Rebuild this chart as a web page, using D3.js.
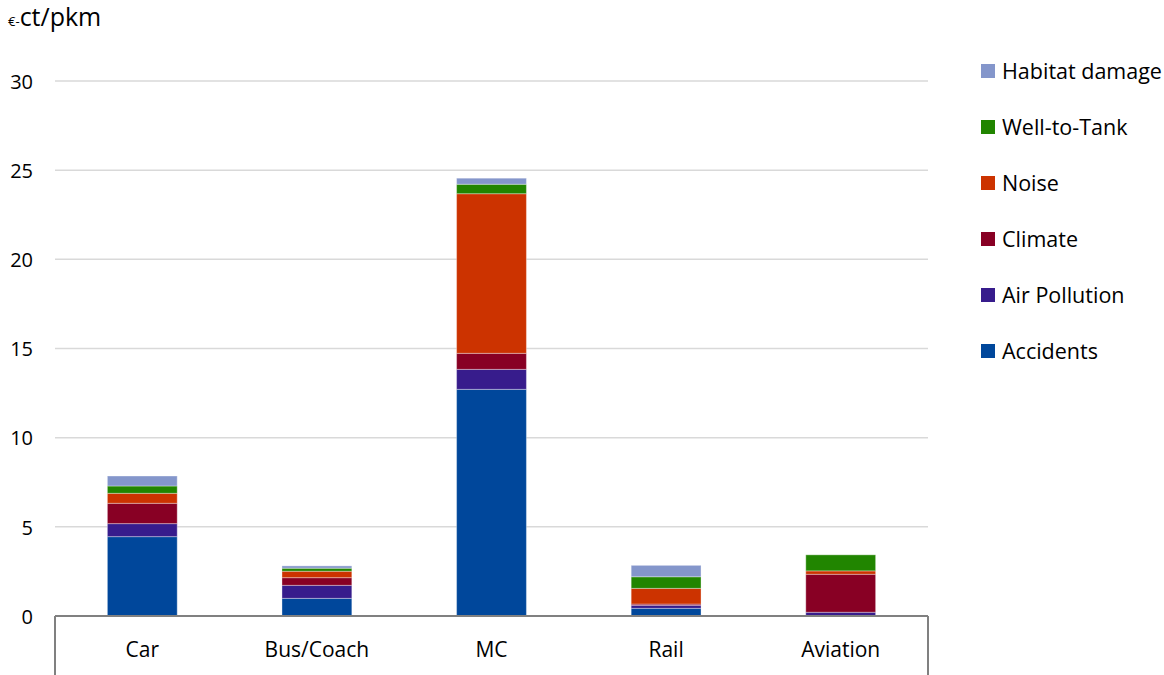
<!DOCTYPE html>
<html>
<head>
<meta charset="utf-8">
<script src="https://cdn.jsdelivr.net/npm/d3@7"></script>
<style>
  html, body { margin: 0; padding: 0; background: #fff; }
  svg { display: block; font-family: "Open Sans", Lato, sans-serif; }
</style>
</head>
<body>
<svg id="chart" width="1164" height="675"></svg>
<script>
const categories = ["Car", "Bus/Coach", "MC", "Rail", "Aviation"];
const seriesNames = ["Accidents", "Air Pollution", "Climate", "Noise", "Well-to-Tank", "Habitat damage"];
const accidents    = [4.45, 0.99, 12.71, 0.43, 0.02];
const airPollution = [0.73, 0.73, 1.12, 0.17, 0.19];
const climate      = [1.14, 0.43, 0.90, 0.07, 2.13];
const noise        = [0.56, 0.36, 8.95, 0.88, 0.19];
const wellToTank   = [0.41, 0.17, 0.53, 0.65, 0.90];
const habitat      = [0.56, 0.13, 0.34, 0.64, 0.00];
const yTicks = [0, 5, 10, 15, 20, 25, 30];
const colors = ["#00479b", "#371c8c", "#880024", "#cc3300", "#218500", "#8496cb"];

const seriesValues = [accidents, airPollution, climate, noise, wellToTank, habitat];
const rows = categories.map((c, i) => {
  const r = { category: c };
  seriesNames.forEach((s, j) => r[s] = seriesValues[j][i]);
  return r;
});

const svg = d3.select("#chart");
const plotLeft = 55, plotRight = 928, plotTop = 81, plotBottom = 616;
const FONT = "'Open Sans', Lato, sans-serif";

const x = d3.scaleBand().domain(categories).range([plotLeft, plotRight]).paddingInner(0.6).paddingOuter(0.3);
const y = d3.scaleLinear().domain([0, 30]).range([plotBottom, plotTop]);
const color = d3.scaleOrdinal().domain(seriesNames).range(colors);

// gridlines
svg.append("g").selectAll("line").data(yTicks.filter(t => t > 0)).join("line")
  .attr("x1", plotLeft).attr("x2", plotRight)
  .attr("y1", d => y(d)).attr("y2", d => y(d))
  .attr("stroke", "#d9d9d9").attr("stroke-width", 1.5);

// y tick labels
const yAxis = d3.axisLeft(y).tickValues(yTicks).tickSize(0).tickPadding(0);
const yg = svg.append("g").attr("transform", "translate(33,0)").call(yAxis);
yg.select(".domain").remove();
yg.selectAll("text").attr("font-size", 20).attr("fill", "#000")
  .attr("font-family", FONT).attr("dy", "0.36em");

// stacked bars
const stack = d3.stack().keys(seriesNames);
const layers = stack(rows);
svg.append("g").selectAll("g").data(layers).join("g")
  .attr("fill", d => color(d.key))
  .selectAll("rect").data(d => d).join("rect")
  .attr("x", d => x(d.data.category))
  .attr("width", x.bandwidth())
  .attr("y", d => y(d[1]))
  .attr("height", d => Math.max(0, y(d[0]) - y(d[1])))
  .attr("stroke", "rgba(255,255,255,0.35)")
  .attr("stroke-width", 1);

// x axis
const xAxis = d3.axisBottom(x).tickSize(0).tickPadding(0);
const xg = svg.append("g").attr("transform", `translate(0,${plotBottom})`).call(xAxis);
xg.select(".domain").remove();
xg.selectAll("text").attr("font-size", 21).attr("fill", "#000")
  .attr("font-family", FONT).attr("dy", "0").attr("y", 41);

svg.append("line").attr("x1", plotLeft).attr("x2", plotRight).attr("y1", plotBottom).attr("y2", plotBottom)
  .attr("stroke", "#808080").attr("stroke-width", 2);
svg.append("line").attr("x1", plotLeft).attr("x2", plotLeft).attr("y1", plotBottom).attr("y2", 675)
  .attr("stroke", "#808080").attr("stroke-width", 2);
svg.append("line").attr("x1", plotRight).attr("x2", plotRight).attr("y1", plotBottom).attr("y2", 675)
  .attr("stroke", "#808080").attr("stroke-width", 2);

// y axis title
const title = svg.append("text").attr("x", 8).attr("y", 26).attr("fill", "#000");
title.append("tspan").attr("font-size", 13).text("€-");
title.append("tspan").attr("font-size", 25).text("ct/pkm");

// legend
const legendOrder = seriesNames.slice().reverse();
const lg = svg.append("g").selectAll("g").data(legendOrder).join("g")
  .attr("transform", (d, i) => `translate(981,${71 + i * 56})`);
lg.append("rect").attr("x", 0).attr("y", -7).attr("width", 14).attr("height", 14)
  .attr("fill", d => color(d));
lg.append("text").attr("x", 21).attr("y", 0).attr("dy", "0.36em")
  .attr("font-size", 21.5).attr("fill", "#000").text(d => d);
</script>
</body>
</html>
